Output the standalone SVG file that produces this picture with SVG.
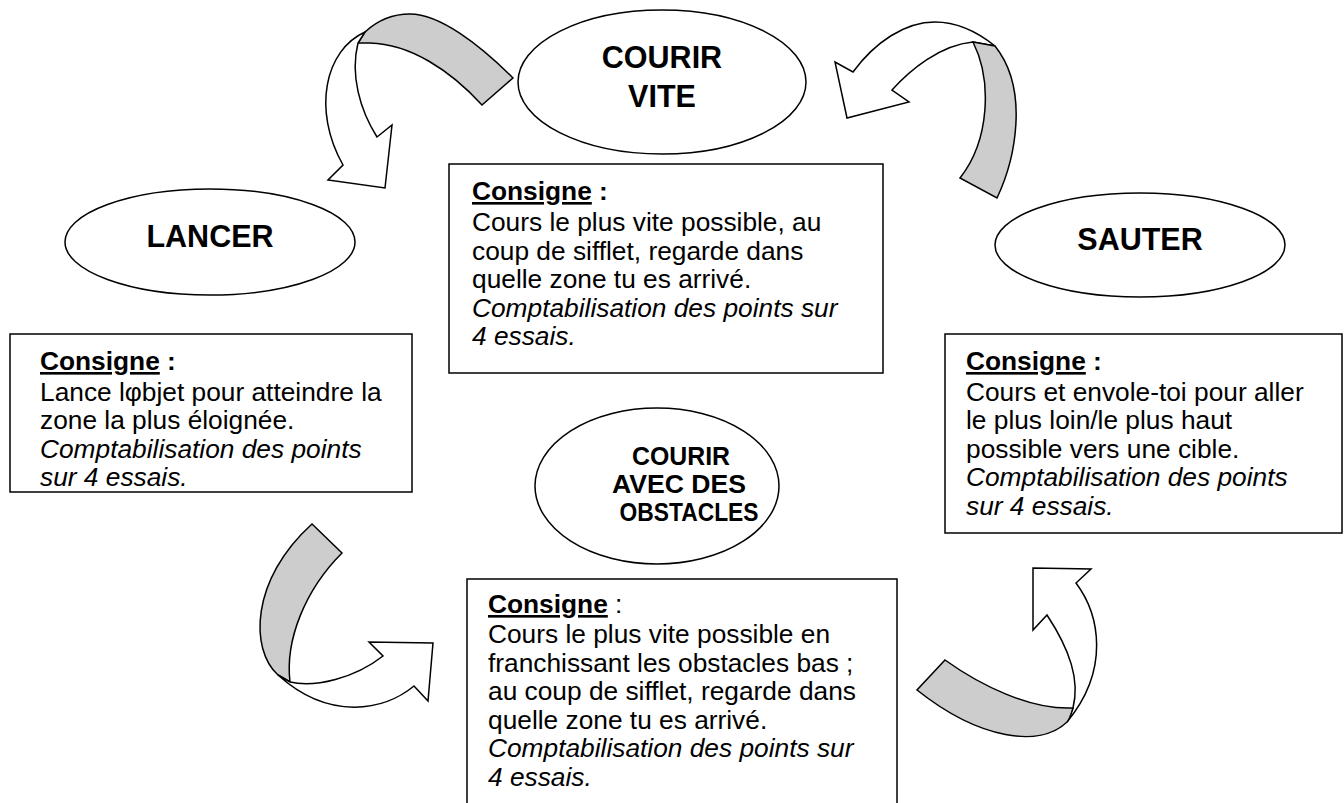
<svg xmlns="http://www.w3.org/2000/svg" width="1344" height="803" viewBox="0 0 1344 803">
<style>
.bg{fill:#ffffff}
.shape{fill:#ffffff;stroke:#000000;stroke-width:1.5}
.band{fill:#cdcdcd;stroke:#000000;stroke-width:1.5;stroke-linejoin:miter}
.arr{fill:#ffffff;stroke:#000000;stroke-width:1.5;stroke-linejoin:miter}
.title{font-family:"Liberation Sans",Arial,sans-serif;font-weight:bold;font-size:30.5px;fill:#000;text-anchor:middle}
.title2{font-family:"Liberation Sans",Arial,sans-serif;font-weight:bold;font-size:25px;fill:#000;text-anchor:middle}
.body{font-family:"Liberation Sans",Arial,sans-serif;font-size:26.3px;fill:#000}
.b{font-weight:bold}
.u{text-decoration:underline}
.i{font-style:italic}
</style>
<rect class="bg" x="0" y="0" width="1344" height="803"/>

<g id="connectors">
  <!-- top-left arrow -->
  <path class="band" d="M365,32 C380,18 395,14 410,14 C440,14 480,45 513,78 L482,105 C450,70 410,44 370,43 L358,43 Z"/>
  <path class="arr" d="M365,32 C325,50 312,110 343,165 L328,180 L385,188 L392,125 L377,137 C360,110 350,75 358,43 Z"/>
  <!-- top-right arrow -->
  <path class="arr" d="M995,46 C975,30 955,22 935,22 C905,22 875,42 853,72 L835,62 L847,118 L909,102 L892,90 C910,70 940,45 973,42 Z"/>
  <path class="band" d="M973,42 C992,80 990,140 960,178 L997,198 C1015,160 1030,90 995,46 Z"/>
  <!-- bottom-left arrow -->
  <path class="band" d="M312,524 L342,553 C305,590 285,640 290,682 L278,675 C250,650 250,580 312,524 Z"/>
  <path class="arr" d="M290,682 C315,688 355,678 383,656 L369,642 L433,643 L428,701 L414,686 C385,710 330,722 278,675 Z"/>
  <!-- bottom-right arrow -->
  <path class="arr" d="M1073,708 C1080,680 1070,650 1047,615 L1033,630 L1033,568 L1091,569 L1076,583 C1100,615 1110,670 1067,722 Z"/>
  <path class="band" d="M945,660 C980,685 1030,710 1073,708 C1071,715 1069,720 1067,722 C1040,748 980,740 917,690 Z"/>
</g>

<g id="courir-vite">
  <ellipse class="shape" cx="662" cy="82" rx="144" ry="72"/>
  <text class="title" x="662" y="68">COURIR</text>
  <text class="title" x="662" y="107">VITE</text>
</g>

<g id="lancer">
  <ellipse class="shape" cx="210" cy="242" rx="145" ry="53"/>
  <text class="title" x="210" y="247">LANCER</text>
</g>

<g id="sauter">
  <ellipse class="shape" cx="1140" cy="245" rx="145" ry="52"/>
  <text class="title" x="1140" y="250">SAUTER</text>
</g>

<g id="courir-obstacles">
  <ellipse class="shape" cx="657" cy="486" rx="122" ry="78"/>
  <text class="title2" x="681" y="465" textLength="98" lengthAdjust="spacingAndGlyphs">COURIR</text>
  <text class="title2" x="679" y="493" textLength="134" lengthAdjust="spacingAndGlyphs">AVEC DES</text>
  <text class="title2" x="689" y="521" textLength="139" lengthAdjust="spacingAndGlyphs">OBSTACLES</text>
</g>

<g id="consigne-courir-vite">
  <rect class="shape" x="449" y="164" width="434" height="209"/>
  <text class="body" x="472" y="200"><tspan class="b u">Consigne</tspan><tspan class="b"> :</tspan></text>
  <text class="body" x="472" y="231">Cours le plus vite possible, au</text>
  <text class="body" x="472" y="259.5">coup de sifflet, regarde dans</text>
  <text class="body" x="472" y="288">quelle zone tu es arrivé.</text>
  <text class="body i" x="472" y="316.5">Comptabilisation des points sur</text>
  <text class="body i" x="472" y="345">4 essais.</text>
</g>

<g id="consigne-lancer">
  <rect class="shape" x="10" y="334" width="402" height="158"/>
  <text class="body" x="40" y="370"><tspan class="b u">Consigne</tspan><tspan class="b"> :</tspan></text>
  <text class="body" x="40" y="400.5">Lance lφbjet pour atteindre la</text>
  <text class="body" x="40" y="429">zone la plus éloignée.</text>
  <text class="body i" x="40" y="457.5">Comptabilisation des points</text>
  <text class="body i" x="40" y="486">sur 4 essais.</text>
</g>

<g id="consigne-sauter">
  <rect class="shape" x="945" y="334" width="397" height="199"/>
  <text class="body" x="966" y="370"><tspan class="b u">Consigne</tspan><tspan class="b"> :</tspan></text>
  <text class="body" x="966" y="400.5">Cours et envole-toi pour aller</text>
  <text class="body" x="966" y="429">le plus loin/le plus haut</text>
  <text class="body" x="966" y="457.5">possible vers une cible.</text>
  <text class="body i" x="966" y="486">Comptabilisation des points</text>
  <text class="body i" x="966" y="514.5">sur 4 essais.</text>
</g>

<g id="consigne-obstacles">
  <rect class="shape" x="467" y="579" width="430" height="240"/>
  <text class="body" x="488" y="613"><tspan class="b u">Consigne</tspan><tspan> :</tspan></text>
  <text class="body" x="488" y="643">Cours le plus vite possible en</text>
  <text class="body" x="488" y="671.5">franchissant les obstacles bas ;</text>
  <text class="body" x="488" y="700">au coup de sifflet, regarde dans</text>
  <text class="body" x="488" y="728.5">quelle zone tu es arrivé.</text>
  <text class="body i" x="488" y="757">Comptabilisation des points sur</text>
  <text class="body i" x="488" y="785.5">4 essais.</text>
</g>
</svg>
